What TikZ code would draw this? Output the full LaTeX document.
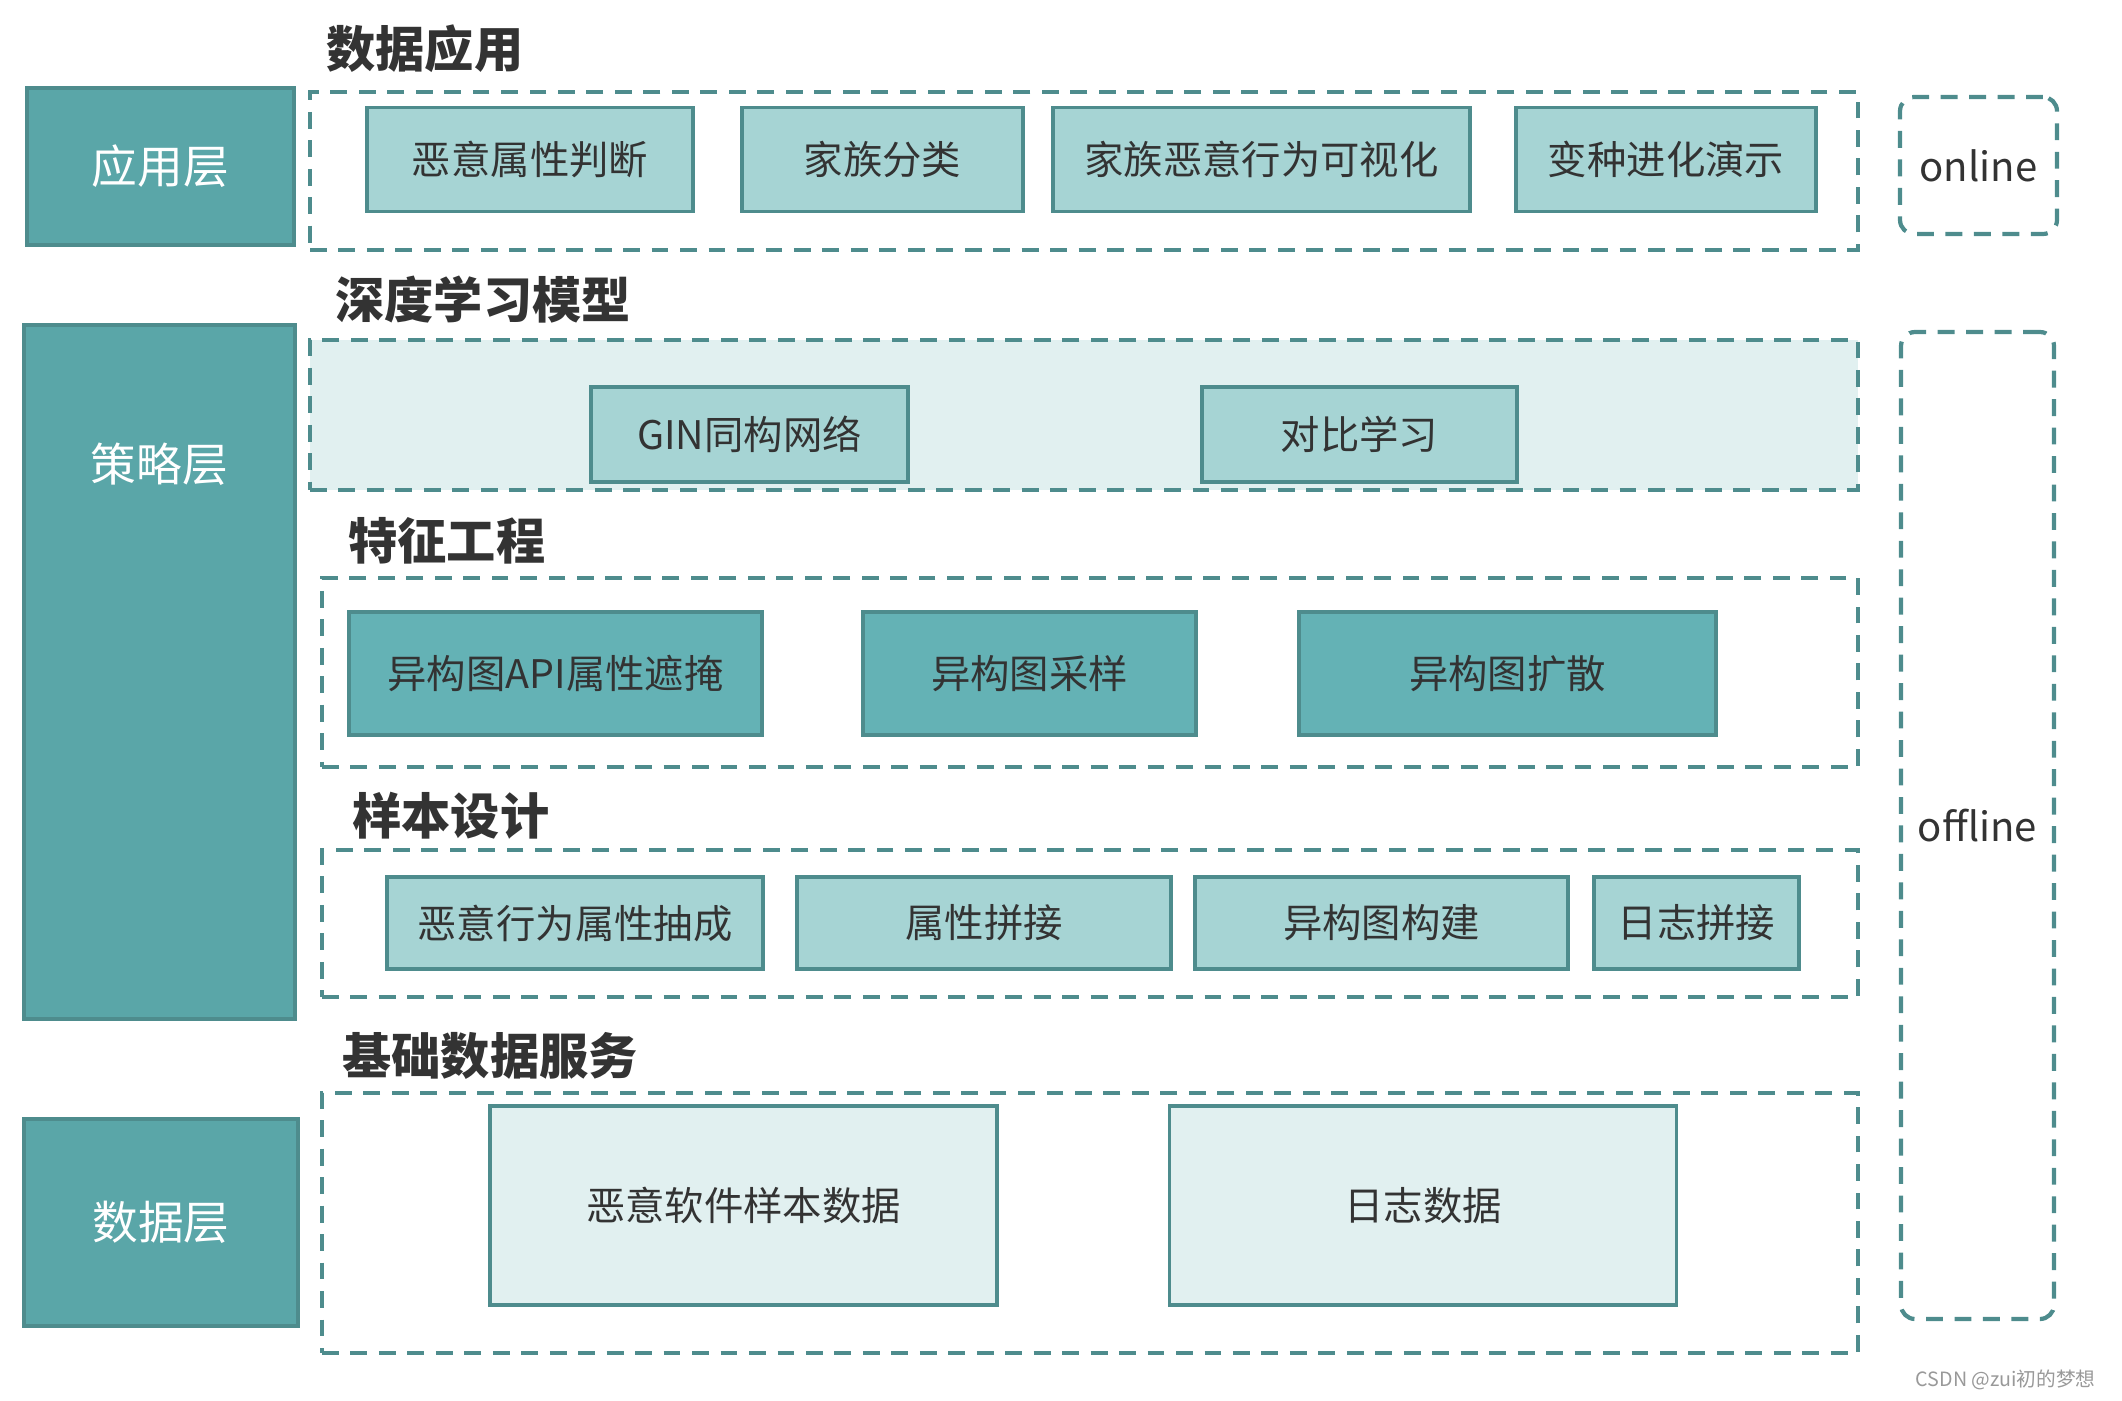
\documentclass[tikz,border=0pt]{standalone}
\usepackage{fontspec}
\setmainfont{Noto Sans CJK SC}

\definecolor{tealdark}{HTML}{5AA6A8}
\definecolor{tealline}{HTML}{4E8C8D}
\definecolor{tealmid}{HTML}{64B2B5}
\definecolor{teallight}{HTML}{A6D4D4}
\definecolor{tealpale}{HTML}{E1F0F0}
\definecolor{txtgrey}{HTML}{333333}

\tikzset{
  layerbox/.style={draw=tealline, fill=tealdark, line width=1.1pt, text=white, font=\fontsize{13}{15}\selectfont},
  itembox/.style={draw=tealline, fill=teallight, line width=1.1pt, text=txtgrey, font=\fontsize{11.2}{13}\selectfont},
  featbox/.style={itembox, fill=tealmid},
  basebox/.style={itembox, fill=tealpale},
  groupbox/.style={draw=tealline, line width=1.2pt, dash pattern=on 4.8pt off 3.3pt},
  sidebox/.style={groupbox, rounded corners=4pt, text=txtgrey, font=\fontsize{11.4}{13}\selectfont},
  grouptitle/.style={anchor=west, text=txtgrey, font=\bfseries\fontsize{14}{16}\selectfont}
}

\begin{document}
\begin{tikzpicture}[x=1cm, y=-1cm]

 \useasboundingbox (0,0) rectangle (21.22,14);

 %layers (left)
 \node[layerbox, minimum width=2.67cm, minimum height=1.57cm] (applayer) at (1.605, 1.665) {应用层};
 \node[layerbox, minimum width=2.71cm, minimum height=6.94cm] (stratlayer) at (1.595, 6.72) {};
 \node[text=white, font=\fontsize{13}{15}\selectfont] (stratname) at (1.595, 4.64) {策略层};
 \node[layerbox, minimum width=2.74cm, minimum height=2.07cm] (datalayer) at (1.61, 12.225) {数据层};

 %dashed groups
 \node[groupbox, minimum width=15.48cm, minimum height=1.58cm] (g1) at (10.84, 1.71) {};
 \node[groupbox, fill=tealpale, minimum width=15.48cm, minimum height=1.50cm] (g2) at (10.84, 4.15) {};
 \node[groupbox, minimum width=15.36cm, minimum height=1.89cm] (g3) at (10.90, 6.725) {};
 \node[groupbox, minimum width=15.36cm, minimum height=1.47cm] (g4) at (10.90, 9.235) {};
 \node[groupbox, minimum width=15.36cm, minimum height=2.60cm] (g5) at (10.90, 12.23) {};

 %titles
 \node[grouptitle] (t1) at (3.14, 0.49) {数据应用};
 \node[grouptitle] (t2) at (3.23, 3.00) {深度学习模型};
 \node[grouptitle] (t3) at (3.36, 5.41) {特征工程};
 \node[grouptitle] (t4) at (3.40, 8.16) {样本设计};
 \node[grouptitle] (t5) at (3.30, 10.56) {基础数据服务};

 %level 1: application
 \foreach \name/\cx/\w/\txt in {a1/5.30/3.26/恶意属性判断, a2/8.825/2.81/家族分类,
     a3/12.615/4.17/家族恶意行为可视化, a4/16.66/3.00/变种进化演示} {
   \node[itembox, minimum width=\w cm, minimum height=1.04cm] (\name) at (\cx, 1.595) {\txt};
 }

 %level 2: model
 \foreach \name/\cx/\w/\txt in {m1/7.495/3.17/GIN同构网络, m2/13.595/3.15/对比学习} {
   \node[itembox, minimum width=\w cm, minimum height=0.95cm] (\name) at (\cx, 4.345) {\txt};
 }

 %level 3: features
 \foreach \name/\cx/\w/\txt in {f1/5.555/4.13/异构图API属性遮掩, f2/10.295/3.33/异构图采样,
     f3/15.075/4.17/异构图扩散} {
   \node[featbox, minimum width=\w cm, minimum height=1.23cm] (\name) at (\cx, 6.735) {\txt};
 }

 %level 4: samples
 \foreach \name/\cx/\w/\txt in {s1/5.75/3.76/恶意行为属性抽成, s2/9.84/3.74/属性拼接,
     s3/13.815/3.73/异构图构建, s4/16.965/2.05/日志拼接} {
   \node[itembox, minimum width=\w cm, minimum height=0.92cm] (\name) at (\cx, 9.23) {\txt};
 }

 %level 5: data
 \foreach \name/\cx/\txt in {d1/7.435/恶意软件样本数据, d2/14.23/日志数据} {
   \node[basebox, minimum width=5.07cm, minimum height=1.99cm] (\name) at (\cx, 12.055) {\txt};
 }

 %online / offline
 \node[sidebox, minimum width=1.57cm, minimum height=1.37cm] (online) at (19.785, 1.655) {online};
 \node[sidebox, minimum width=1.53cm, minimum height=9.87cm] (offline) at (19.775, 8.255) {offline};

 \node[anchor=east, text=gray!80, font=\fontsize{5.6}{7}\selectfont] (mark) at (21.08, 13.80) {CSDN @zui初的梦想};

\end{tikzpicture}
\end{document}
